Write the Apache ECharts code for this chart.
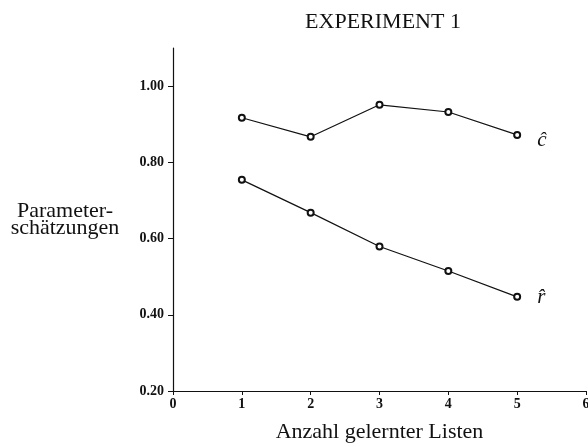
<!DOCTYPE html>
<html>
<head>
<meta charset="utf-8">
<script src="https://cdn.jsdelivr.net/npm/echarts@6/dist/echarts.min.js"></script>
<style>
  html, body { margin: 0; padding: 0; background: #fff; }
  #main { width: 588px; height: 447px; }
</style>
</head>
<body>
<div id="main"></div>
<script>
// values
const lists = [1, 2, 3, 4, 5]
const cHat = [0.917, 0.867, 0.951, 0.932, 0.872]
const rHat = [0.754, 0.668, 0.579, 0.515, 0.447]
const yTicks = [0.2, 0.4, 0.6, 0.8, 1.0]
const xTicks = [0, 1, 2, 3, 4, 5, 6]

const serif = "'Liberation Serif', 'DejaVu Serif', serif"
const chart = echarts.init(document.getElementById("main"))

const makeSeries = (name, values, offset) => ({
  name: name,
  type: "line",
  data: lists.map((x, i) => [x, values[i]]),
  symbol: "emptyCircle",
  symbolSize: 6,
  lineStyle: { color: "#111", width: 1.2 },
  itemStyle: { color: "#111", borderWidth: 1.2 },
  endLabel: {
    show: true,
    formatter: "{a}",
    offset: offset,
    fontFamily: serif,
    fontStyle: "italic",
    fontSize: 21,
    color: "#111",
  },
  animation: false,
})

chart.setOption({
  backgroundColor: "#fff",
  title: {
    text: "EXPERIMENT 1",
    left: 378,
    top: 6,
    textAlign: "center",
    textStyle: { fontFamily: serif, fontWeight: "normal", fontSize: 22, color: "#111" },
  },
  grid: { left: 173, right: 2, top: 48, bottom: 56, outerBoundsMode: "none" },
  xAxis: {
    type: "value",
    min: 0,
    max: 6,
    interval: 1,
    name: "Anzahl gelernter Listen",
    nameLocation: "middle",
    nameGap: 30,
    nameTextStyle: { fontFamily: serif, fontSize: 22, color: "#111" },
    axisLine: { lineStyle: { color: "#111", width: 1.2 } },
    axisTick: { customValues: xTicks, length: 4, lineStyle: { color: "#111" } },
    axisLabel: { customValues: xTicks, fontFamily: serif, fontWeight: "bold", fontSize: 14, color: "#111", margin: 6 },
    splitLine: { show: false },
  },
  yAxis: {
    type: "value",
    min: 0.2,
    max: 1.1,
    name: "Parameter-\nschätzungen",
    nameLocation: "middle",
    nameRotate: 0,
    nameGap: 108,
    nameTextStyle: { fontFamily: serif, fontSize: 22, color: "#111", lineHeight: 17, align: "center" },
    axisLine: { show: true, lineStyle: { color: "#111", width: 1.2 } },
    axisTick: { show: true, customValues: yTicks, length: 5, lineStyle: { color: "#111" } },
    axisLabel: {
      customValues: yTicks,
      formatter: v => v.toFixed(2),
      fontFamily: serif,
      fontWeight: "bold",
      fontSize: 14,
      color: "#111",
      margin: 9,
    },
    splitLine: { show: false },
  },
  series: [makeSeries("ĉ", cHat, [12, 6]), makeSeries("r̂", rHat, [12, 1])],
})
</script>
</body>
</html>
